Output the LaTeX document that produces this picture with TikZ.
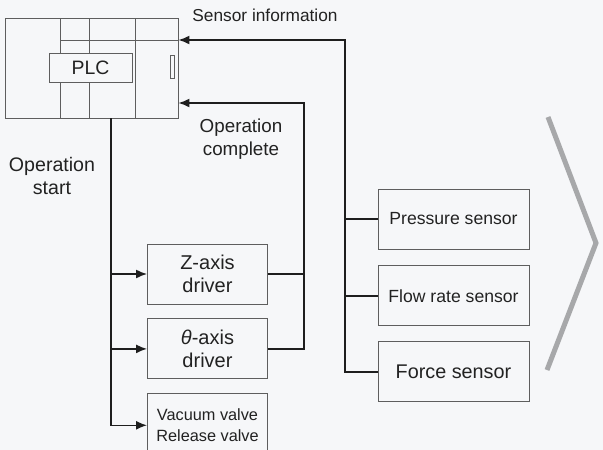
\documentclass[tikz,border=0pt]{standalone}
\usepackage{fontspec}
\setmainfont{Liberation Sans}
\usetikzlibrary{arrows.meta, positioning}
\definecolor{bgcol}{HTML}{F6F7F9}
\definecolor{boxline}{HTML}{5E5E5E}
\definecolor{wire}{HTML}{1E1E1E}
\definecolor{chevcol}{HTML}{A7A8AA}
\definecolor{txtcol}{HTML}{222222}

\begin{document}
\begin{tikzpicture}[
        x=1pt, y=-1pt,
        node distance=14pt and 14pt,
        box/.style={rectangle, draw=boxline, line width=0.9pt,
                    minimum width=120pt, minimum height=60pt,
                    align=center, text=txtcol, inner sep=1pt,
                    font=\fontsize{20}{23}\selectfont},
        sensbox/.style={box, minimum width=151pt,
                        font=\fontsize{17.6}{20}\selectfont},
        lbl/.style={align=center, text=txtcol, inner sep=0pt,
                    font=\fontsize{19}{22.5}\selectfont},
        wr/.style={draw=wire, line width=1.6pt},
        arr/.style={wr, -{Latex[length=11pt, width=9pt]}},
    ]
    \clip (0,0) rectangle (603,450);
    \fill[bgcol] (0,0) rectangle (603,450);

    % PLC unit
    \node[rectangle, draw=boxline, line width=0.9pt, minimum width=173pt,
          minimum height=100pt] (plc) at (91.5,68) {};
    \draw[boxline, line width=0.9pt]
        (60,18) -- (60,118) (89,18) -- (89,118) (135,18) -- (135,118)
        (60,40) -- (178,40)
        (170,55) rectangle (174,78);
    \node[rectangle, draw=boxline, line width=0.9pt, fill=bgcol,
          minimum width=83pt, minimum height=29pt, text=txtcol,
          font=\fontsize{19.4}{22}\selectfont] (plclbl) at (90.5,67.5) {PLC};

    % drivers
    \node[box] (zdrv) at (207.5,274) {Z-axis\\driver};
    \node[box, below=14pt of zdrv] (thdrv) {\textit{θ}-axis\\driver};
    \node[box, below=14pt of thdrv, minimum height=63pt,
          font=\fontsize{16.3}{21}\selectfont] (vac) {Vacuum valve\\Release valve};

    % sensors
    \node[sensbox] (pres) at (453.5,219) {Pressure sensor};
    \node[sensbox, below=16pt of pres] (flow) {Flow rate sensor};
    \node[sensbox, below=15pt of flow, font=\fontsize{19.8}{22}\selectfont] (force) {Force sensor};

    % labels
    \node[lbl, font=\fontsize{17.3}{20}\selectfont] (sinfo) at (265,15) {Sensor information};
    \node[lbl, font=\fontsize{18.8}{22.5}\selectfont] (opdone) at (241,139) {Operation\\complete};
    \node[lbl, font=\fontsize{19.6}{23}\selectfont] (opstart) at (52,176) {Operation\\start};

    % buses
    \coordinate (sensbus) at (345,40);
    \coordinate (donebus) at (304,103);
    \coordinate (startbus) at (111,118);

    \draw[arr] (force.west) -| (sensbus) -- (plc.east |- sensbus);
    \draw[wr] (pres.west) -- (pres.west -| sensbus);
    \draw[wr] (flow.west) -- (flow.west -| sensbus);

    \draw[arr] (thdrv.east) -| (donebus) -- (plc.east |- donebus);
    \draw[wr] (zdrv.east) -- (zdrv.east -| donebus);

    \draw[arr] (startbus) |- (vac.west);
    \draw[arr] (startbus |- zdrv.west) -- (zdrv.west);
    \draw[arr] (startbus |- thdrv.west) -- (thdrv.west);

    % chevron
    \draw[chevcol, line width=5pt, line join=miter] (548,117) -- (596,243) -- (547,370);
\end{tikzpicture}
\end{document}
